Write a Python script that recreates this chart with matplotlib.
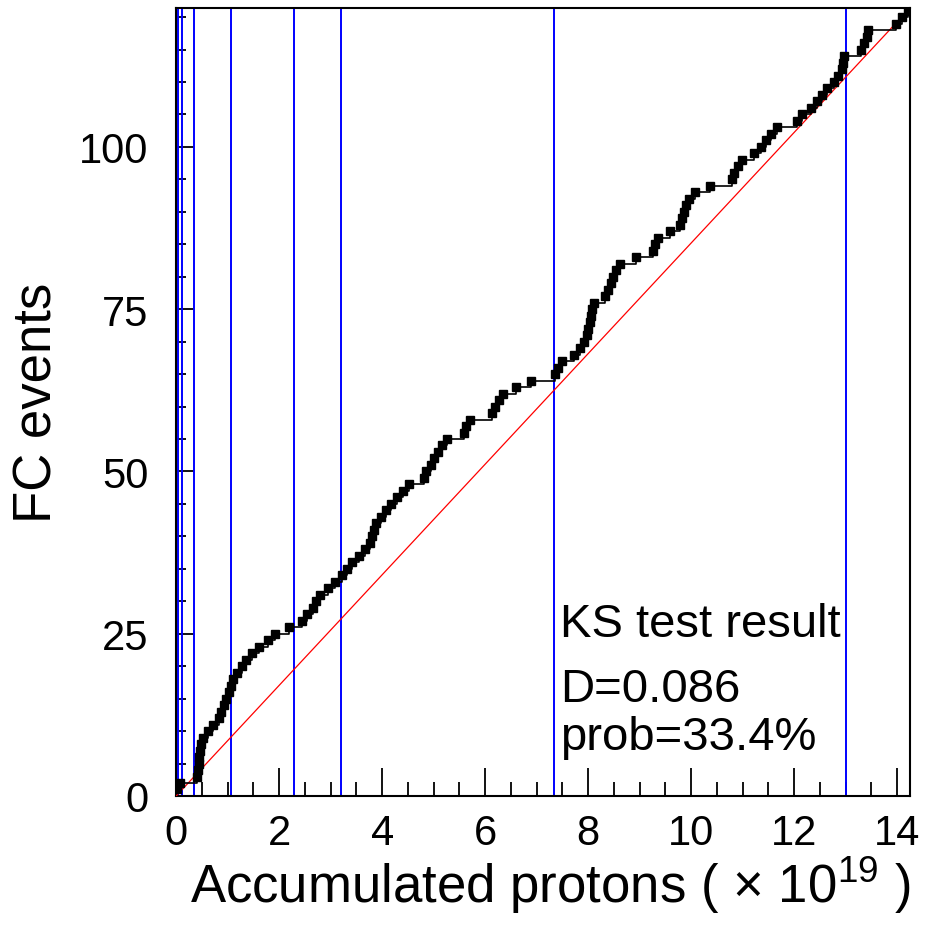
import matplotlib
matplotlib.use("Agg")
import matplotlib.pyplot as plt
from matplotlib.ticker import MultipleLocator

plt.rcParams['font.family'] = ['Liberation Sans', 'DejaVu Sans']
plt.rcParams['mathtext.fontset'] = 'custom'
plt.rcParams['mathtext.rm'] = 'Liberation Sans'

# accumulated protons (x 1e19) at which each FC event was seen, in order
event_pot = [
    0.02, 0.08, 0.40, 0.42, 0.44, 0.45, 0.47, 0.49, 0.53, 0.62,
    0.72, 0.84, 0.88, 0.92, 0.97, 1.02, 1.06, 1.10, 1.18, 1.27,
    1.36, 1.48, 1.60, 1.78, 1.92, 2.20, 2.44, 2.55, 2.65, 2.72,
    2.80, 2.95, 3.08, 3.22, 3.32, 3.42, 3.55, 3.66, 3.76, 3.80,
    3.84, 3.88, 3.97, 4.08, 4.18, 4.28, 4.40, 4.52, 4.82, 4.86,
    4.94, 5.00, 5.08, 5.16, 5.26, 5.58, 5.63, 5.70, 6.14, 6.20,
    6.27, 6.34, 6.60, 6.90, 7.36, 7.42, 7.50, 7.72, 7.85, 7.92,
    7.97, 8.00, 8.03, 8.06, 8.08, 8.12, 8.32, 8.38, 8.44, 8.48,
    8.55, 8.61, 8.92, 9.25, 9.30, 9.35, 9.58, 9.78, 9.82, 9.86,
    9.90, 9.95, 10.08, 10.36, 10.80, 10.84, 10.90, 10.98, 11.22, 11.35,
    11.45, 11.55, 11.66, 12.05, 12.16, 12.32, 12.45, 12.55, 12.63, 12.78,
    12.86, 12.92, 12.94, 12.96, 13.30, 13.36, 13.41, 13.44, 13.98, 14.10,
    14.22,
]
event_count = list(range(1, len(event_pot) + 1))

# run period boundaries (x 1e19 POT)
run_bounds = [0.035, 0.11, 0.34, 1.07, 2.29, 3.21, 7.34, 13.0]

x_max = 14.25
y_max = 121.4

ks_lines = ["KS test result", "D=0.086", "prob=33.4%"]

fig = plt.figure(figsize=(9.27, 9.29), dpi=100)
ax = fig.add_axes([0.19, 0.1421, 0.7917, 0.8482])

for xb in run_bounds:
    ax.axvline(xb, color='#0000ff', lw=1.4, zorder=2)

# expected uniform accumulation
ax.plot([0, x_max], [0, y_max], color='#ff0000', lw=0.9, zorder=3)

ax.plot(event_pot, event_count, color='black', lw=1.2, drawstyle='steps-post', zorder=4)
ax.plot(event_pot, event_count, 's', color='black', ms=6, zorder=5)

ax.set_xlim(0, x_max)
ax.set_ylim(0, y_max)

ax.xaxis.set_major_locator(MultipleLocator(2))
ax.xaxis.set_minor_locator(MultipleLocator(0.5))
ax.yaxis.set_major_locator(MultipleLocator(25))
ax.yaxis.set_minor_locator(MultipleLocator(5))

ax.tick_params(which='both', direction='in', top=False, right=False, width=1.3, color='black')
ax.tick_params(axis='x', which='major', length=20, pad=12, labelsize=30)
ax.tick_params(axis='x', which='minor', length=10)
ax.tick_params(axis='y', which='major', length=13, pad=20, labelsize=30)
ax.tick_params(axis='y', which='minor', length=7)
for s in ax.spines.values():
    s.set_linewidth(1.5)

ax.set_xlabel(r"Accumulated protons ( $\times$ 10$^{19}$ )", fontsize=38, loc='right', labelpad=0)
ax.set_ylabel("FC events", fontsize=38, labelpad=12)

ypos = [0.218, 0.136, 0.075]
for t, yp in zip(ks_lines, ypos):
    ax.text(0.523, yp, t, transform=ax.transAxes, fontsize=34, va='center', ha='left')

fig.savefig("out.png", dpi=100)
